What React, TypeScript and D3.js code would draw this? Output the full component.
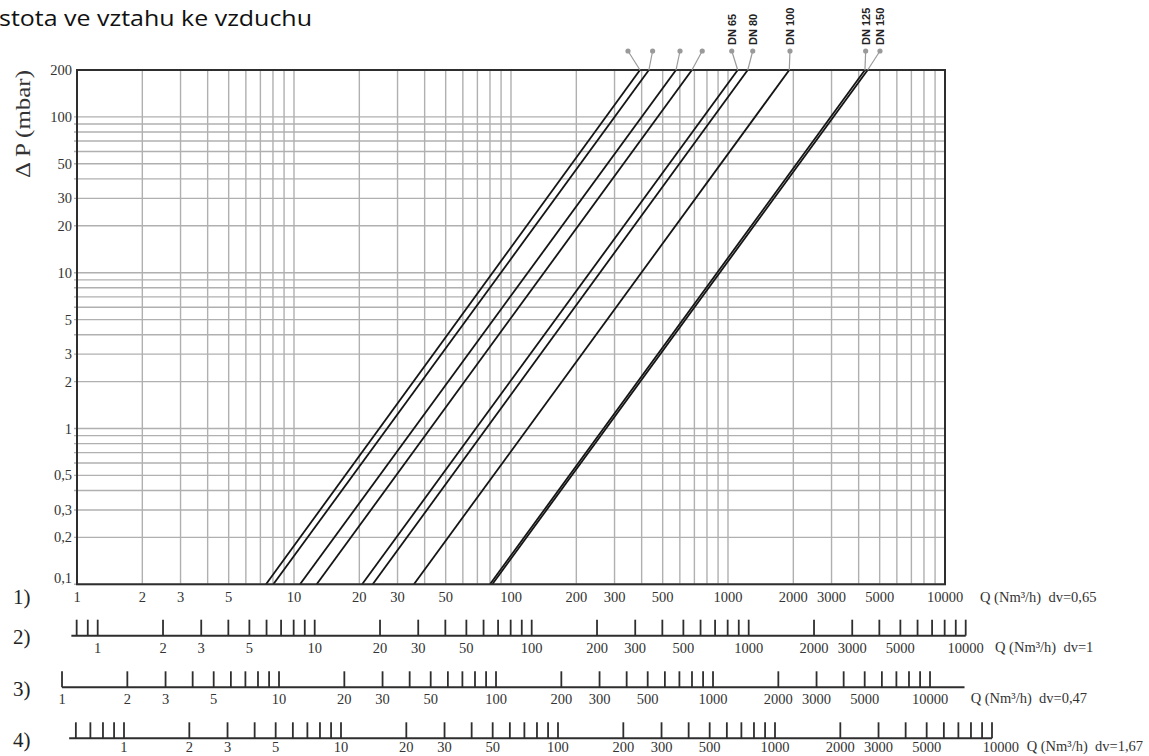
import React from "react";
import * as d3 from "d3";

// ---- data ----
const Q_TICKS = [1, 2, 3, 5, 10, 20, 30, 50, 100, 200, 300, 500, 1000, 2000, 3000, 5000, 10000];
const DP_TICKS = [200, 100, 50, 30, 20, 10, 5, 3, 2, 1, 0.5, 0.3, 0.2, 0.1];
const SERIES_NAMES = ["", "", "", "", "DN 65", "DN 80", "DN 100", "DN 125", "DN 150"];
// flow Q (Nm3/h, dv=0.65) at ΔP = 0.1 mbar and at ΔP = 200 mbar
const Q_AT_DP_MIN = [7.43, 8.03, 10.66, 12.72, 20.6, 23.05, 35.7, 80.0, 82.0];
const Q_AT_DP_MAX = [393, 432, 576, 682, 1109, 1233, 1916, 4277, 4402];
const DP_MIN = 0.1;
const DP_MAX = 200;
const ROW_IDS = ["2)", "3)", "4)"];
const ROW_DV = ["1", "0,47", "1,67"];
const ROW_FACTOR = [1.2456, 0.853, 1.6466];
const ROW_TICK_MIN = [0.8, 1, 0.6];

// ---- layout (not data) ----
const LEADER_DX = [-12, 3.7, 4, 10.3, -6, 5, 0.7, 0.7, 12.3];
const ROW_Y = [635.7, 687.3, 738.3];
const ROW_LABEL_DY = [12, 12, 9];
const ROW_LINE_EXTRA_LEFT = [5.3, 0, 6.7];
const ROW_LINE_EXTRA_RIGHT = [0, 34.5, 0];
const ROW_Q_X = [995, 970.7, 1026.7];
const ROW_LAST_LABEL_DX = [0, 0, 9];

const W = 1149;
const H = 756;
const X0 = 77, X1 = 945, Y0 = 584.3, Y1 = 70;

const fmt = (v: number) => String(v).replace(".", ",");

function gridValues(min: number, max: number) {
  const out: number[] = [];
  for (let e = -2; e <= 5; e++) {
    for (let d = 1; d <= 9; d++) {
      const v = +(d * Math.pow(10, e)).toPrecision(6);
      if (v >= min - 1e-9 && v <= max + 1e-9) out.push(v);
    }
  }
  return out;
}

export default function App() {
  const x = d3.scaleLog().domain([1, 10000]).range([X0, X1]);
  const y = d3.scaleLog().domain([DP_MIN, DP_MAX]).range([Y0, Y1]);
  const serif = "'Liberation Serif', 'Times New Roman', serif";
  const gridCol = "#b0b0b0";
  const dark = "#2e2e2e";

  const vGrid = gridValues(1, 10000).filter((v) => v > 1 && v < 10000);
  const hGrid = gridValues(DP_MIN, DP_MAX).filter((v) => v < DP_MAX);
  const line = d3.line<[number, number]>().x((d) => x(d[0])).y((d) => y(d[1]));

  return (
    <svg width={W} height={H} style={{ position: "absolute", left: 0, top: 0, background: "#fff" }}>
      {/* title */}
      <text x={-1} y={26} fontFamily="'Open Sans', 'Liberation Sans', sans-serif" fontSize={21} fill="#111"
        textLength={313} lengthAdjust="spacingAndGlyphs">stota ve vztahu ke vzduchu</text>

      {/* y label */}
      <text transform={`translate(30,124) rotate(-90)`} textAnchor="middle" fontFamily={serif} fontSize={20}
        fill="#333" textLength={108} lengthAdjust="spacingAndGlyphs">Δ P (mbar)</text>

      {/* grid */}
      {vGrid.map((v) => (
        <line key={"v" + v} x1={x(v)} x2={x(v)} y1={Y1} y2={Y0} stroke={gridCol} strokeWidth={1.4} />
      ))}
      {hGrid.map((v) => (
        <line key={"h" + v} x1={X0 - 3} x2={X1} y1={y(v)} y2={y(v)} stroke={gridCol} strokeWidth={1.4} />
      ))}

      {/* series */}
      <defs>
        <clipPath id="plotclip"><rect x={X0} y={Y1} width={X1 - X0} height={Y0 - Y1} /></clipPath>
      </defs>
      <g clipPath="url(#plotclip)">
        {Q_AT_DP_MIN.map((q, i) => (
          <path key={"s" + i} d={line([[q, DP_MIN], [Q_AT_DP_MAX[i], DP_MAX]]) || ""} fill="none"
            stroke="#151515" strokeWidth={1.8} />
        ))}
      </g>

      {/* frame */}
      <rect x={X0} y={Y1} width={X1 - X0} height={Y0 - Y1} fill="none" stroke={dark} strokeWidth={2} />

      {/* leaders and DN labels */}
      {Q_AT_DP_MAX.map((q, i) => {
        const tx = x(q);
        const dx = tx + LEADER_DX[i];
        return (
          <g key={"l" + i}>
            <line x1={dx} y1={51} x2={tx} y2={Y1} stroke="#9a9a9a" strokeWidth={1.2} />
            <circle cx={dx} cy={51} r={2.6} fill="#9a9a9a" />
            {SERIES_NAMES[i] && (
              <text transform={`translate(${dx + 4.3},45) rotate(-90)`} fontFamily="'Liberation Sans', Arial, sans-serif"
                fontWeight="bold" fontSize={11} fill="#222">{SERIES_NAMES[i]}</text>
            )}
          </g>
        );
      })}

      {/* y tick labels */}
      {DP_TICKS.map((v) => (
        <text key={"yl" + v} x={72} y={v === DP_MIN ? y(v) - 6 : y(v)} dy="0.35em" textAnchor="end"
          fontFamily={serif} fontSize={14.5} fill="#333">{fmt(v)}</text>
      ))}

      {/* row 1 (main axis) */}
      <text x={13} y={597} dy="0.35em" fontFamily={serif} fontSize={21} fill="#222">1)</text>
      {Q_TICKS.map((v) => (
        <text key={"xl" + v} x={x(v)} y={597} dy="0.35em" textAnchor="middle" fontFamily={serif}
          fontSize={14.5} fill="#333">{v}</text>
      ))}
      <text x={980} y={597} dy="0.35em" fontFamily={serif} fontSize={14.5} fill="#333" xmlSpace="preserve">
        Q (Nm³/h)  dv=0,65
      </text>

      {/* secondary rows */}
      {ROW_IDS.map((id, r) => {
        const k = ROW_FACTOR[r];
        const xr = (v: number) => x(v * k);
        const ticks = gridValues(ROW_TICK_MIN[r], 10000);
        const ly = ROW_Y[r];
        const lx0 = xr(ROW_TICK_MIN[r]) - ROW_LINE_EXTRA_LEFT[r];
        const lx1 = xr(10000) + ROW_LINE_EXTRA_RIGHT[r];
        return (
          <g key={"row" + id}>
            <text x={13} y={ly + 1} dy="0.35em" fontFamily={serif} fontSize={21} fill="#222">{id}</text>
            <line x1={lx0} x2={lx1} y1={ly} y2={ly} stroke={dark} strokeWidth={2} />
            {ticks.map((v) => (
              <line key={"t" + v} x1={xr(v)} x2={xr(v)} y1={ly - 16} y2={ly} stroke={dark} strokeWidth={1.8} />
            ))}
            {Q_TICKS.map((v) => (
              <text key={"rl" + v} x={xr(v) + (v === 10000 ? ROW_LAST_LABEL_DX[r] : 0)} y={ly + ROW_LABEL_DY[r]} dy="0.35em"
                textAnchor="middle" fontFamily={serif} fontSize={14.5} fill="#333">{v}</text>
            ))}
            <text x={ROW_Q_X[r]} y={ly + ROW_LABEL_DY[r] - 1} dy="0.35em" fontFamily={serif} fontSize={14.5} fill="#333"
              xmlSpace="preserve">{`Q (Nm³/h)  dv=${ROW_DV[r]}`}</text>
          </g>
        );
      })}
    </svg>
  );
}
